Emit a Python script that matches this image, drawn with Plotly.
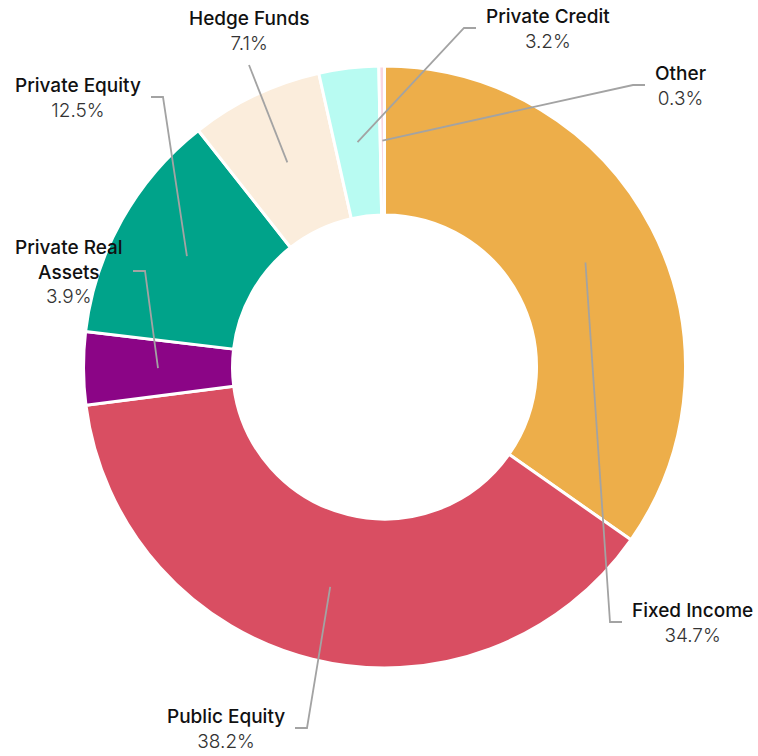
import math
import plotly.graph_objects as go

# ---- data ----
categories = ["Fixed Income", "Public Equity", "Private Real Assets", "Private Equity",
              "Hedge Funds", "Private Credit", "Other"]
values = [34.7, 38.2, 3.9, 12.5, 7.1, 3.2, 0.3]
label_names = ["Fixed Income", "Public Equity", "Private Real<br>Assets", "Private Equity",
               "Hedge Funds", "Private Credit", "Other"]
colors = ["#EDAE4A", "#D94E62", "#8B0586", "#00A38A", "#FBEDDC", "#B8FBF2", "#F9D6E2"]

# ---- layout (pixel geometry) ----
W, H = 758, 756
CX, CY, R = 384.5, 367, 301
HOLE = 0.505
# elbow point of each leader line and the side the label sits on
elbows = {
    "Fixed Income": (610, 622, "right"),
    "Public Equity": (307, 728, "left"),
    "Private Real Assets": (145, 271, "left"),
    "Private Equity": (163, 97, "left"),
    "Hedge Funds": (249, 65, "top"),
    "Private Credit": (464, 28, "right"),
    "Other": (633, 85, "right"),
}

fig = go.Figure()
fig.add_trace(go.Pie(
    labels=categories, values=values, sort=False, direction="clockwise", rotation=0,
    hole=HOLE, marker=dict(colors=colors, line=dict(color="white", width=3)),
    textinfo="none", hoverinfo="label+percent", showlegend=False,
    domain=dict(x=[(CX - R) / W, (CX + R) / W], y=[(H - CY - R) / H, (H - CY + R) / H]),
))

total = sum(values)
r_mid = R * (1 + HOLE) / 2
cum = 0.0
line_col = "#A3A3A3"
for cat, name, v in zip(categories, label_names, values):
    theta = 2 * math.pi * (cum + v / 2) / total
    cum += v
    sx = CX + r_mid * math.sin(theta)
    sy = CY - r_mid * math.cos(theta)
    ex, ey, side = elbows[cat]
    pct = f"{v / total * 100:.1f}%"
    if side == "top":
        path = f"M {sx},{sy} L {ex},{ey}"
        ax, ay, xa, ya = ex, ey - 8, "center", "bottom"
    elif side == "right":
        path = f"M {sx},{sy} L {ex},{ey} L {ex + 12},{ey}"
        ax, ay, xa, ya = ex + 20, ey + 1, "left", "middle"
    else:
        path = f"M {sx},{sy} L {ex},{ey} L {ex - 12},{ey}"
        ax, ay, xa, ya = ex - 20, ey + 1, "right", "middle"
    fig.add_shape(type="path", path=path, xref="x", yref="y",
                  line=dict(color=line_col, width=1.8))
    fig.add_annotation(
        x=ax, y=ay, xref="x", yref="y", xanchor=xa, yanchor=ya, showarrow=False,
        align="center",
        text=f"{name}<br><span style='font-weight:300;fill:#333333'>{pct}</span>",
        font=dict(family="Inter, Roboto, sans-serif", size=19, color="#111111", weight=500),
    )

fig.update_layout(
    width=W, height=H, margin=dict(l=0, r=0, t=0, b=0),
    paper_bgcolor="white", plot_bgcolor="rgba(0,0,0,0)",
    xaxis=dict(range=[0, W], visible=False, fixedrange=True),
    yaxis=dict(range=[H, 0], visible=False, fixedrange=True),
)

fig.write_html("out.html", config={"displayModeBar": False},
               post_script="document.body.style.margin='0';document.body.style.overflow='hidden';")
